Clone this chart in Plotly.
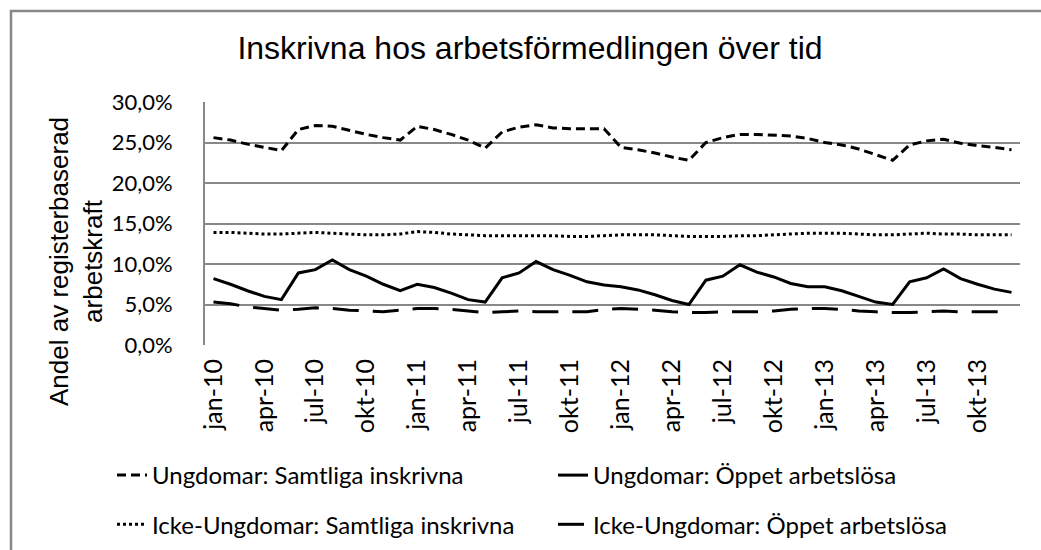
import plotly.graph_objects as go

months = ["jan", "feb", "mar", "apr", "maj", "jun", "jul", "aug", "sep", "okt", "nov", "dec"]
years = ["10", "11", "12", "13"]
categories = [f"{m}-{y}" for y in years for m in months]
tick_labels = [c for c in categories if c.split("-")[0] in ("jan", "apr", "jul", "okt")]

ung_samtliga = [25.6, 25.3, 24.8, 24.4, 24.0, 26.6, 27.1, 27.0, 26.5, 26.0, 25.6, 25.3,
                27.0, 26.6, 26.0, 25.3, 24.3, 26.3, 26.9, 27.2, 26.8, 26.7, 26.7, 26.7,
                24.4, 24.1, 23.7, 23.2, 22.8, 25.0, 25.6, 26.0, 26.0, 25.9, 25.8, 25.5,
                25.0, 24.7, 24.2, 23.5, 22.8, 24.7, 25.2, 25.4, 24.9, 24.6, 24.4, 24.1]
ung_oppet = [8.2, 7.5, 6.7, 6.0, 5.6, 8.9, 9.3, 10.5, 9.3, 8.5, 7.5, 6.7,
             7.5, 7.1, 6.4, 5.6, 5.3, 8.3, 8.9, 10.3, 9.3, 8.6, 7.8, 7.4,
             7.2, 6.8, 6.2, 5.5, 5.0, 8.0, 8.5, 9.9, 9.0, 8.4, 7.6, 7.2,
             7.2, 6.7, 6.0, 5.3, 5.0, 7.8, 8.3, 9.4, 8.2, 7.5, 6.9, 6.5]
icke_samtliga = [13.9, 13.9, 13.8, 13.7, 13.7, 13.8, 13.9, 13.8, 13.7, 13.6, 13.6, 13.7,
                 14.0, 13.9, 13.7, 13.6, 13.5, 13.5, 13.5, 13.5, 13.5, 13.4, 13.4, 13.5,
                 13.6, 13.6, 13.6, 13.5, 13.4, 13.4, 13.4, 13.5, 13.5, 13.6, 13.7, 13.8,
                 13.8, 13.8, 13.7, 13.6, 13.6, 13.7, 13.8, 13.7, 13.7, 13.6, 13.6, 13.6]
icke_oppet = [5.3, 5.1, 4.7, 4.5, 4.3, 4.4, 4.6, 4.5, 4.3, 4.2, 4.1, 4.3,
              4.5, 4.5, 4.4, 4.2, 4.0, 4.1, 4.2, 4.1, 4.1, 4.1, 4.1, 4.4,
              4.5, 4.4, 4.3, 4.1, 4.0, 4.0, 4.1, 4.1, 4.1, 4.2, 4.4, 4.5,
              4.5, 4.4, 4.2, 4.1, 4.0, 4.0, 4.1, 4.2, 4.1, 4.1, 4.1, 4.1]

y_ticks = [0, 5, 10, 15, 20, 25, 30]
y_tick_text = ["0,0%", "5,0%", "10,0%", "15,0%", "20,0%", "25,0%", "30,0%"]

series = [
    ("Ungdomar: Samtliga inskrivna", ung_samtliga, "9px,5px", "legend"),
    ("Ungdomar: Öppet arbetslösa", ung_oppet, "solid", "legend2"),
    ("Icke-Ungdomar: Samtliga inskrivna", icke_samtliga, "3px,3px", "legend"),
    ("Icke-Ungdomar: Öppet arbetslösa", icke_oppet, "26px,14px", "legend2"),
]

fig = go.Figure()
for k, (name, vals, dash, leg) in enumerate(series):
    fig.add_trace(go.Scatter(x=categories, y=vals, name=name, mode="lines",
                             legend=leg, legendgroup=f"g{k}",
                             line=dict(color="black", width=3, dash=dash)))

W, H = 1041, 550
L, R, T, B = 205, 1020, 102, 345

leg_common = dict(orientation="v", xref="container", yref="container",
                  xanchor="left", yanchor="top", tracegroupgap=15,
                  font=dict(family="Lato", size=24, color="black"),
                  bgcolor="rgba(0,0,0,0)", itemclick=False)

fig.update_layout(
    width=W, height=H,
    margin=dict(l=L, r=W - R, t=T, b=H - B, autoexpand=False),
    paper_bgcolor="white", plot_bgcolor="white",
    title=dict(text="Inskrivna hos arbetsförmedlingen över tid",
               font=dict(family="Liberation Sans", size=32, color="black"),
               x=530 / W, xanchor="center", y=1 - 48 / H, yanchor="middle"),
    xaxis=dict(type="category", tickmode="array", tickvals=tick_labels, ticktext=tick_labels,
               tickangle=-90, tickfont=dict(family="Lato", size=25, color="black"),
               showgrid=False, showline=False, ticks="", zeroline=False,
               range=[-0.5, len(categories) - 0.5], ticklabelstandoff=8),
    yaxis=dict(range=[0, 30], tickvals=y_ticks, ticktext=y_tick_text,
               tickfont=dict(family="Lato", size=22, color="black"),
               showgrid=True, gridcolor="#888888", gridwidth=2,
               showline=True, linecolor="#888888", linewidth=2,
               zeroline=False, ticks="", ticklabelstandoff=26),
    legend=dict(x=112 / W, y=1 - 453 / H, **leg_common),
    legend2=dict(x=553 / W, y=1 - 453 / H, **leg_common),
    showlegend=True,
)

# y-axis title (placed like the original, centred a bit below the plot middle)
fig.add_annotation(text="Andel av registerbaserad<br>arbetskraft", xref="paper", yref="paper",
                   x=(76 - L) / (R - L), y=(B - 262) / (B - T), xanchor="center", yanchor="middle",
                   textangle=-90, showarrow=False,
                   font=dict(family="Liberation Sans", size=26, color="black"))

# outer chart border (top and left edges visible)
pw, ph = R - L, B - T
def px_x(x): return (x - L) / pw
def px_y(y): return (B - y) / ph
fig.add_shape(type="rect", xref="paper", yref="paper",
              x0=px_x(11), x1=px_x(W + 6), y0=px_y(H + 6), y1=px_y(11),
              line=dict(color="#888888", width=2.5), fillcolor="rgba(0,0,0,0)", layer="below")

fig.write_html("out.html", config={"displayModeBar": False},
               post_script="document.body.style.margin='0';document.body.style.overflow='hidden';")
